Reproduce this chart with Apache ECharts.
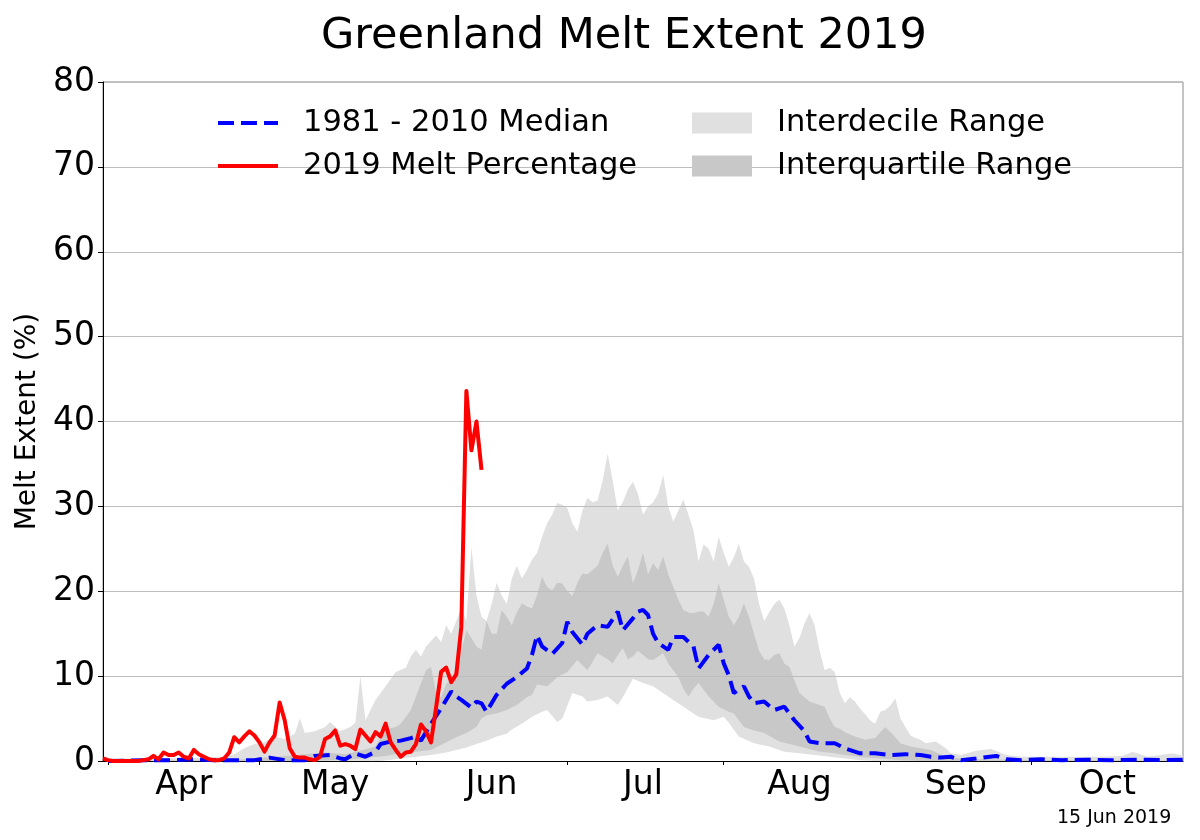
<!DOCTYPE html>
<html>
<head>
<meta charset="utf-8">
<script src="https://cdn.jsdelivr.net/npm/echarts@6/dist/echarts.min.js"></script>
<style>
html,body{margin:0;padding:0;background:#fff;}
#chart{width:1200px;height:840px;}
</style>
</head>
<body>
<div id="chart"></div>
<script>
// ---- DATA (day of year 2019; Apr 1 = 91) ----
const monthStarts = [91, 121, 152, 182, 213, 244, 274];
const monthMids = [106, 136, 167, 197, 228, 259, 289];
const monthNames = ['Apr', 'May', 'Jun', 'Jul', 'Aug', 'Sep', 'Oct'];
const yTicks = [0, 10, 20, 30, 40, 50, 60, 70, 80];

// 2019 daily melt percentage, starting at day 90
const melt2019Start = 90;
const melt2019 = [0.3, 0.1, 0.0, 0.0, 0.0, 0.0, 0.0, 0.0, 0.1, 0.2,
  0.6, 0.2, 1.0, 0.7, 0.7, 1.0, 0.5, 0.3, 1.3, 0.8,
  0.5, 0.2, 0.1, 0.1, 0.3, 1.0, 2.8, 2.2, 2.9, 3.5,
  3.0, 2.2, 1.1, 2.2, 3.0, 6.9, 4.8, 1.5, 0.5, 0.4,
  0.4, 0.2, 0.1, 0.5, 2.6, 2.9, 3.6, 1.8, 2.0, 1.8,
  1.4, 3.7, 3.0, 2.3, 3.4, 2.9, 4.4, 2.2, 1.3, 0.5,
  1.0, 1.1, 2.0, 4.3, 3.5, 2.2, 6.3, 10.5, 11.0, 9.3,
  10.2, 15.8, 43.6, 36.6, 40.0, 34.3];

// 1981-2010 median [day, %]
const median = [[91,0.0],[95,0.05],[100,0.1],[104,0.1],[108,0.2],[112,0.1],[116,0.1],[120,0.1],[123,0.4],[126,0.1],[130,0.1],[132,0.6],[135,0.7],[137,0.3],[138,0.2],[140,0.9],[142,0.5],[144,1.1],[145,2.0],[147,2.3],[149,2.4],[151,2.7],[152,2.9],[153,2.4],[155,4.4],[157,6.2],[159,8.2],[160,7.6],[161,7.2],[163,6.3],[164,7.0],[165,6.8],[166,5.8],[168,7.8],[170,9.1],[172,9.9],[174,10.9],[175,12.5],[176,14.8],[177,13.5],[179,12.6],[181,13.9],[182,16.4],[183,15.2],[185,13.7],[186,15.0],[188,16.0],[190,15.8],[192,17.6],[193,15.4],[195,16.8],[196,17.6],[197,17.8],[198,17.2],[199,15.0],[200,13.9],[202,13.1],[203,14.6],[205,14.6],[207,13.5],[208,10.9],[210,12.5],[212,13.7],[213,11.5],[214,10.1],[215,8.0],[217,8.8],[218,7.6],[219,6.8],[221,7.0],[223,6.0],[225,6.4],[227,4.8],[229,3.5],[230,2.3],[232,2.1],[235,2.1],[237,1.5],[240,0.9],[243,0.9],[246,0.7],[249,0.8],[252,0.7],[254,0.5],[256,0.4],[258,0.5],[260,0.1],[263,0.3],[267,0.6],[269,0.2],[272,0.1],[276,0.2],[280,0.1],[285,0.15],[290,0.1],[295,0.15],[300,0.1],[304,0.15]];

// 90th percentile
const p90 = [[91,0.2],[95,0.3],[100,0.4],[105,0.3],[110,0.4],[114,0.5],[116,0.8],[118,1.5],[120,2.0],[122,2.2],[124,2.9],[126,2.6],[128,3.2],[129,5.0],[130,3.3],[132,3.5],[134,4.0],[135,4.6],[137,3.5],[139,4.0],[140,4.5],[141,10.0],[142,4.8],[144,7.2],[146,8.8],[148,10.5],[150,11.0],[151,12.3],[152,13.1],[153,12.3],[154,13.5],[156,14.8],[157,14.0],[158,16.0],[159,15.0],[160,16.5],[161,18.0],[162,16.5],[163,25.2],[164,19.5],[165,17.0],[166,16.5],[167,18.5],[168,21.0],[169,19.5],[170,18.5],[171,21.5],[172,23.0],[173,21.5],[174,22.5],[175,23.7],[176,24.5],[177,26.4],[178,28.0],[179,29.0],[180,30.4],[181,30.2],[182,29.8],[183,28.0],[184,27.0],[185,29.5],[186,31.0],[187,30.5],[188,30.7],[189,33.0],[190,36.2],[191,33.0],[192,29.5],[193,30.5],[194,32.0],[195,32.9],[196,31.5],[197,29.0],[198,30.0],[199,30.5],[200,31.5],[201,33.7],[202,30.0],[203,28.2],[204,29.5],[205,30.8],[206,29.0],[207,27.2],[208,23.5],[209,25.5],[210,25.0],[211,23.5],[212,26.4],[213,24.5],[214,22.9],[215,24.0],[216,25.6],[217,23.5],[218,22.9],[219,21.5],[220,18.5],[221,16.5],[222,17.5],[223,18.5],[224,19.0],[225,18.0],[226,16.0],[227,13.5],[228,14.5],[229,16.2],[230,17.4],[231,16.0],[232,13.0],[233,10.7],[234,11.0],[235,10.5],[236,8.0],[237,6.8],[238,7.5],[239,7.0],[240,6.2],[241,5.5],[242,4.8],[243,4.4],[244,5.8],[245,6.0],[246,6.5],[247,7.4],[248,5.0],[249,4.0],[250,3.0],[251,2.7],[252,2.5],[253,2.1],[255,2.3],[257,1.5],[258,0.9],[260,0.7],[263,1.2],[266,1.4],[269,0.7],[272,0.5],[277,0.5],[282,0.5],[287,0.5],[292,0.6],[294,1.1],[297,0.5],[302,0.9],[304,0.6]];

// 75th percentile
const p75 = [[91,0.0],[100,0.05],[110,0.1],[118,0.2],[122,0.4],[126,0.6],[130,0.8],[134,1.0],[138,0.8],[141,1.2],[144,1.7],[146,3.7],[148,4.0],[149,4.4],[151,6.0],[152,7.6],[154,10.7],[155,11.1],[156,8.0],[157,7.5],[158,9.1],[159,9.5],[160,11.0],[161,13.0],[162,15.4],[163,14.5],[164,13.5],[165,13.1],[166,16.5],[167,15.0],[168,15.0],[169,17.8],[170,17.0],[171,16.0],[172,17.5],[173,18.6],[174,18.2],[175,18.0],[176,19.5],[177,21.7],[178,20.5],[179,20.1],[180,21.0],[181,20.9],[182,20.0],[183,19.4],[184,21.0],[185,22.1],[186,22.0],[187,22.5],[188,23.0],[189,24.5],[190,25.6],[191,23.0],[192,21.7],[193,23.0],[194,24.1],[195,20.9],[196,22.5],[197,24.5],[198,22.0],[199,23.3],[200,22.5],[201,24.1],[202,22.0],[203,20.5],[204,19.0],[205,17.8],[206,17.5],[207,17.4],[208,17.6],[209,17.6],[210,17.0],[211,18.5],[212,20.9],[213,19.0],[214,17.0],[215,16.0],[216,17.0],[217,18.6],[218,17.0],[219,15.0],[220,13.0],[221,12.0],[222,11.9],[223,12.5],[224,12.7],[225,11.5],[226,11.1],[227,9.5],[228,8.0],[229,7.5],[230,7.0],[231,6.8],[232,6.6],[233,6.4],[234,5.0],[235,4.0],[236,3.8],[237,3.4],[239,2.9],[241,2.5],[243,2.7],[245,4.0],[247,2.8],[248,2.1],[250,1.7],[252,1.5],[254,1.3],[257,0.5],[260,0.3],[265,0.2],[270,0.15],[280,0.1],[290,0.1],[304,0.1]];

// 25th percentile
const p25 = [[91,0],[130,0],[135,0.1],[140,0.2],[143,0.4],[146,0.6],[149,0.9],[152,1.1],[155,1.3],[158,2.2],[160,2.8],[162,3.3],[164,4.0],[165,5.0],[166,5.4],[168,5.6],[170,6.0],[172,6.6],[174,7.5],[175,7.8],[176,9.0],[178,8.8],[179,9.3],[180,9.9],[182,10.5],[184,11.9],[186,10.7],[188,12.7],[190,12.0],[191,11.5],[192,12.5],[193,13.3],[194,12.0],[195,12.3],[196,13.0],[198,12.0],[199,11.9],[201,12.7],[202,11.5],[204,9.9],[205,8.5],[206,7.6],[207,8.5],[208,9.2],[210,7.6],[212,6.4],[214,5.8],[215,5.6],[217,4.0],[219,3.6],[221,3.3],[224,2.3],[226,2.0],[228,1.7],[232,1.1],[235,0.9],[237,0.7],[241,0.4],[244,0.3],[248,0.1],[252,0],[304,0]];

// 10th percentile
const p10 = [[91,0],[145,0],[148,0.2],[152,0.5],[155,0.7],[158,1.0],[160,1.3],[162,1.6],[164,2.0],[166,2.4],[168,2.9],[170,3.2],[171,3.7],[173,4.4],[175,5.2],[177,5.8],[178,6.0],[180,4.6],[181,5.0],[183,8.0],[185,7.6],[186,7.0],[188,7.2],[190,7.6],[192,6.6],[193,7.5],[195,9.7],[197,9.2],[199,8.8],[200,8.4],[203,7.2],[205,6.4],[207,5.6],[208,5.2],[211,4.8],[213,5.2],[214,4.5],[216,2.9],[219,2.1],[222,1.7],[225,1.1],[228,0.9],[231,0.7],[234,0.5],[237,0.3],[240,0.1],[243,0],[304,0]];

// ---- CHART ----
const FONT = 'DejaVu Sans';
const LIGHT = '#e0e0e0';
const DARK = '#c8c8c8';
const melt2019Data = melt2019.map((v, i) => [melt2019Start + i, v]);

function band(name, data, color) {
  return {
    name: name, type: 'line', data: data, symbol: 'none', silent: true,
    color: color, z: 1, animation: false,
    lineStyle: { width: 0, color: color },
    areaStyle: { color: color, opacity: 1 }
  };
}
// empty series used only to show rectangle swatches in the legend
function swatch(name, color) {
  return { name: name, type: 'bar', data: [], color: color, legendIcon: 'rect', itemStyle: { color: color, borderRadius: 0 } };
}

const legendText = { fontFamily: FONT, fontSize: 30.5, color: '#000', lineHeight: 32, rich: { g: { width: 20 } } };

const chart = echarts.init(document.getElementById('chart'), null, { renderer: 'canvas' });
chart.setOption({
  animation: false,
  backgroundColor: '#ffffff',
  title: {
    text: 'Greenland Melt Extent 2019',
    left: 316, top: 10,
    textStyle: { fontFamily: FONT, fontSize: 43, fontWeight: 'normal', color: '#000' }
  },
  legend: [
    {
      data: [
        { name: '1981 - 2010 Median', itemStyle: { opacity: 0 }, lineStyle: { width: 4, type: [16, 7], color: '#0000ff' } },
        { name: '2019 Melt Percentage', itemStyle: { opacity: 0 }, lineStyle: { width: 4, color: '#ff0000' } }
      ],
      orient: 'vertical', left: 211, top: 102, itemWidth: 60, itemHeight: 21, itemGap: 11,
      selectedMode: false,
      formatter: n => '{g|}' + n,
      textStyle: legendText
    },
    {
      data: ['Interdecile Range', 'Interquartile Range'],
      icon: 'rect',
      orient: 'vertical', left: 687, top: 102, itemWidth: 60, itemHeight: 21, itemGap: 11,
      selectedMode: false,
      formatter: n => '{g|}' + n,
      textStyle: legendText
    }
  ],
  grid: { left: 103, right: 17, top: 82, bottom: 79, show: true, borderColor: '#888', borderWidth: 1, containLabel: false },
  xAxis: {
    type: 'value', min: 90, max: 304, z: 3,
    splitLine: { show: false },
    axisLine: { show: true, lineStyle: { color: '#000', width: 1 } },
    axisTick: { show: true, length: 4, lineStyle: { color: '#000' }, customValues: monthStarts },
    axisLabel: {
      customValues: monthMids, margin: 8,
      fontFamily: FONT, fontSize: 33, color: '#000',
      formatter: v => monthNames[monthMids.indexOf(v)] || ''
    }
  },
  yAxis: {
    type: 'value', min: 0, max: 80, interval: 10, z: 3,
    name: 'Melt Extent (%)', nameLocation: 'middle', nameGap: 51, nameRotate: 90,
    nameTextStyle: { fontFamily: FONT, fontSize: 28, color: '#000' },
    splitLine: { show: true, lineStyle: { color: '#bdbdbd', width: 1 } },
    axisLine: { show: true, lineStyle: { color: '#000', width: 1 } },
    axisTick: { show: true, length: 5, lineStyle: { color: '#000' } },
    axisLabel: {
      margin: 8, fontFamily: FONT, fontSize: 33, color: '#000',
      formatter: v => (yTicks.indexOf(v) >= 0 ? String(v) : '')
    }
  },
  series: [
    band('p90', p90, LIGHT),
    band('p75', p75, DARK),
    band('p25', p25, LIGHT),
    band('p10', p10, '#ffffff'),
    swatch('Interdecile Range', LIGHT),
    swatch('Interquartile Range', DARK),
    {
      name: '1981 - 2010 Median', type: 'line', data: median, symbol: 'none', z: 5,
      color: '#0000ff',
      lineStyle: { color: '#0000ff', width: 4, type: [16, 7], cap: 'butt' }
    },
    {
      name: '2019 Melt Percentage', type: 'line', data: melt2019Data, symbol: 'none', z: 6,
      color: '#ff0000',
      lineStyle: { color: '#ff0000', width: 4, join: 'round' }
    }
  ],
  graphic: [
    { type: 'text', left: 1057, top: 809, style: { text: '15 Jun 2019', font: '19px "DejaVu Sans"', fill: '#000' } }
  ]
});
</script>
</body>
</html>
